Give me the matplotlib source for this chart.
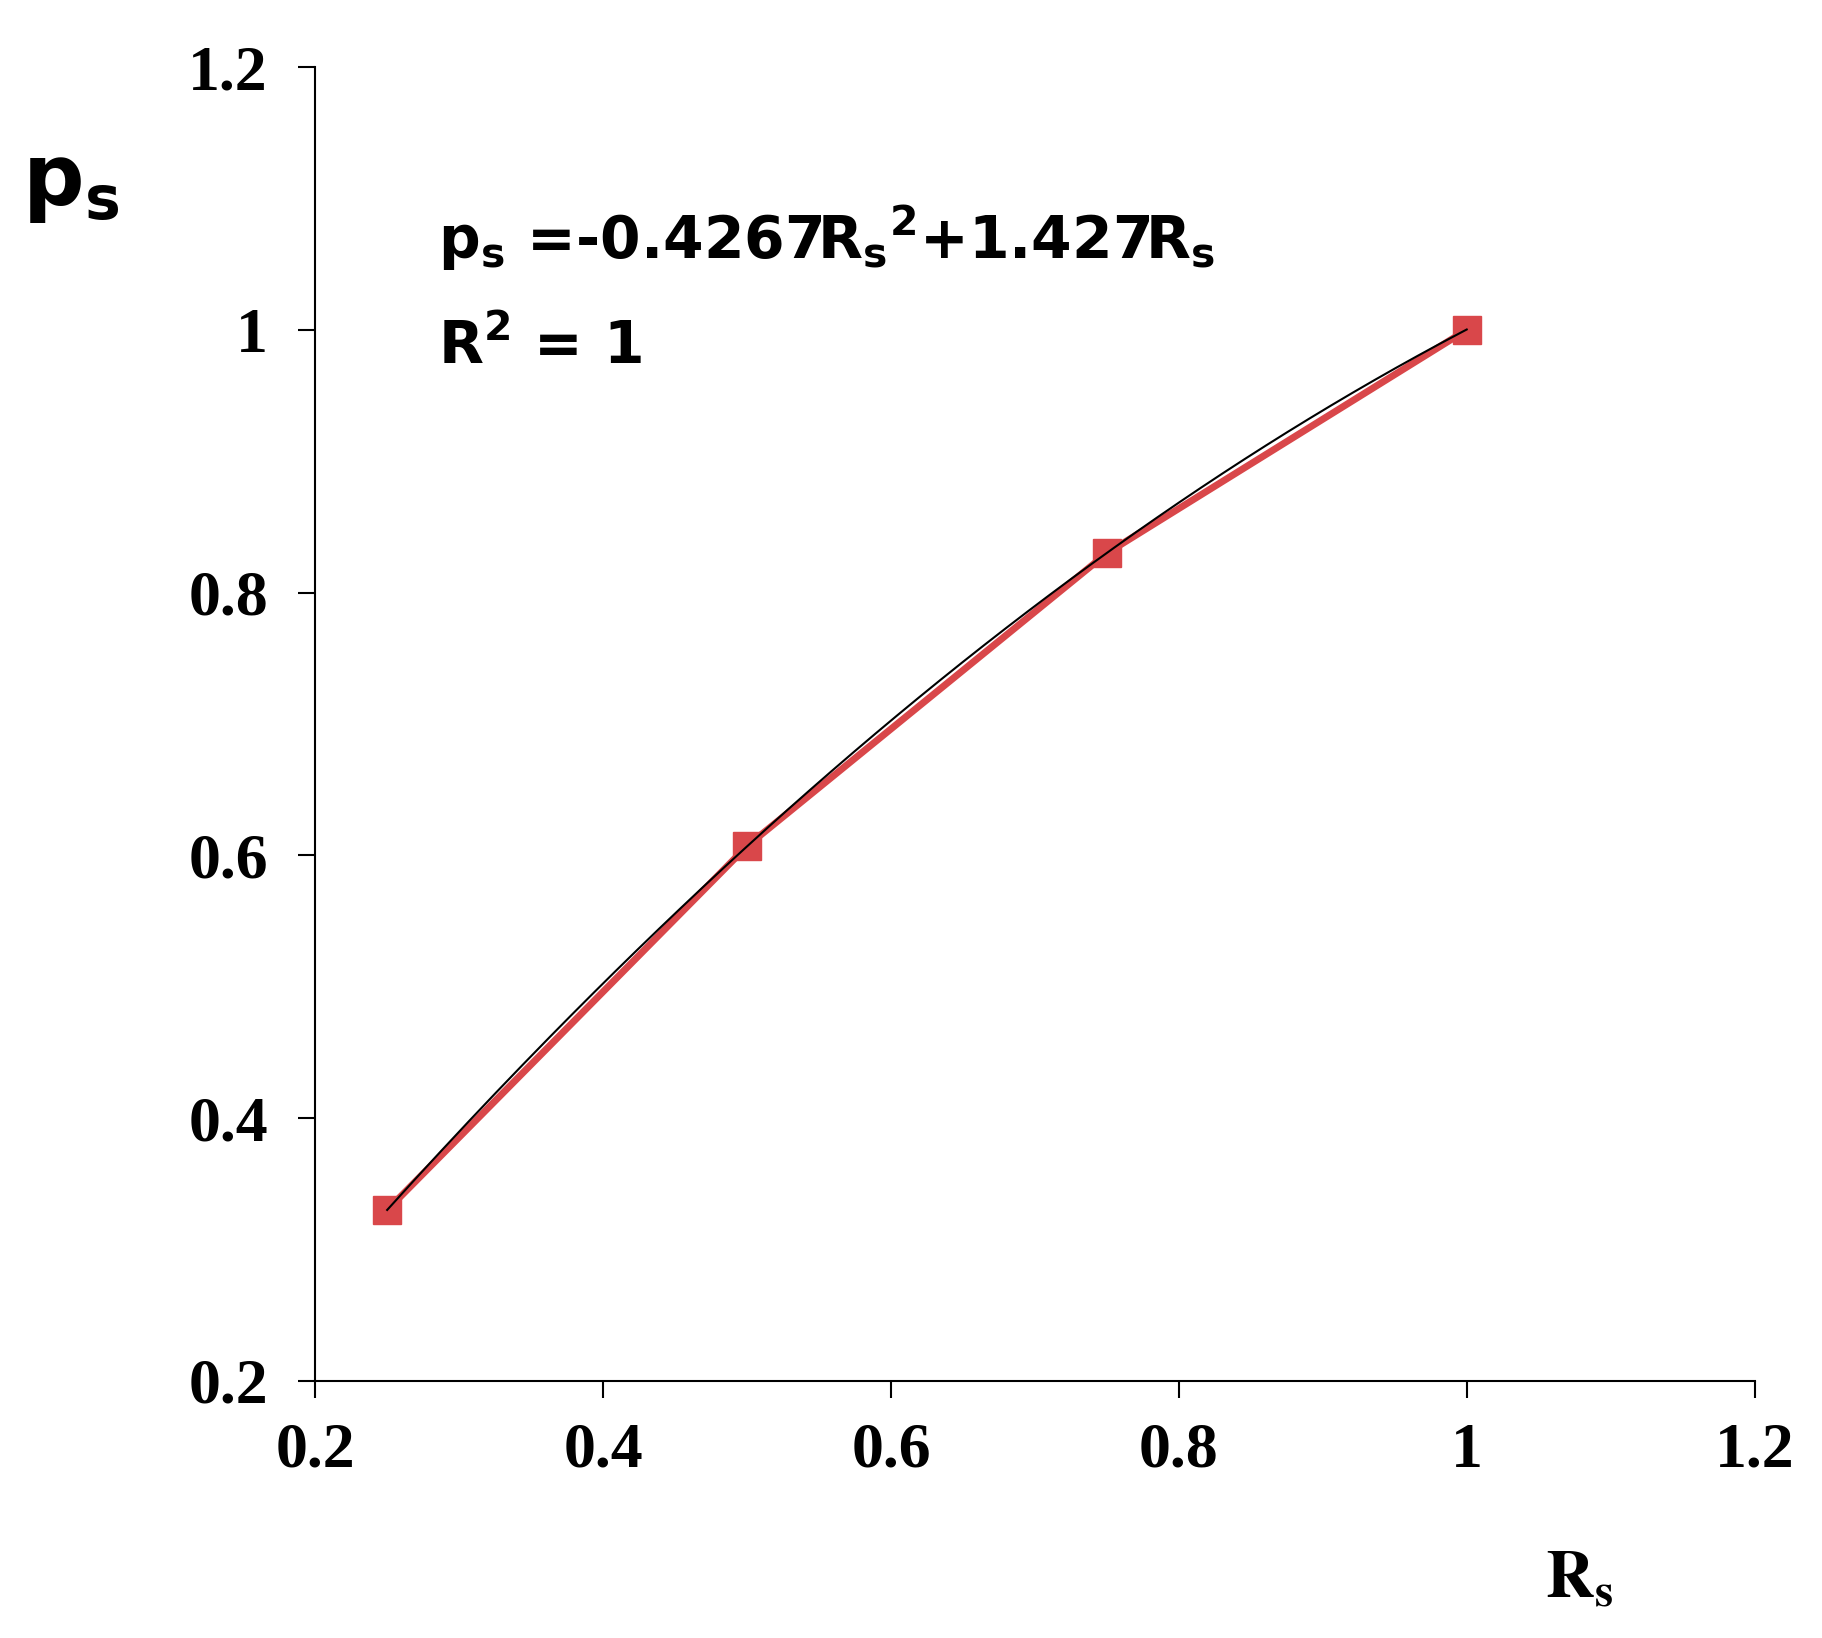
import matplotlib
matplotlib.use("Agg")
import matplotlib.pyplot as plt
import numpy as np

# data
rs = [0.25, 0.5, 0.75, 1.0]
ps = [0.33, 0.607, 0.83, 1.0]
# trendline coefficients shown on the chart
a2, a1 = -0.4267, 1.427
xticks = [0.2, 0.4, 0.6, 0.8, 1, 1.2]
yticks = [0.2, 0.4, 0.6, 0.8, 1, 1.2]
tick_labels = ['0.2', '0.4', '0.6', '0.8', '1', '1.2']

fig = plt.figure(figsize=(18.22, 16.38), dpi=100)
ax = fig.add_axes([0.173, 0.157, 0.79, 0.802])

ax.plot(rs, ps, color='#d9474a', linewidth=5, marker='s', markersize=20, zorder=2)
xf = np.linspace(rs[0], rs[-1], 200)
ax.plot(xf, a2 * xf**2 + a1 * xf, color='black', linewidth=1.5, zorder=3)

ax.set_xlim(0.2, 1.2)
ax.set_ylim(0.2, 1.2)
ax.set_xticks(xticks)
ax.set_yticks(yticks)
ax.set_xticklabels(tick_labels)
ax.set_yticklabels(tick_labels)
for lab in ax.get_xticklabels() + ax.get_yticklabels():
    lab.set_fontfamily('Liberation Serif')
    lab.set_fontweight('bold')
    lab.set_fontsize(46)
ax.tick_params(axis='x', direction='out', length=12, width=1.5, pad=18, colors='black')
ax.tick_params(axis='y', direction='out', length=12, width=1.5, pad=22, colors='black')
ax.spines['top'].set_visible(False)
ax.spines['right'].set_visible(False)
ax.spines['left'].set_linewidth(1.5)
ax.spines['bottom'].set_linewidth(1.5)

fig.text(0.012, 0.875, r'$\mathbf{p_s}$', fontsize=62, fontfamily='DejaVu Sans')
ax.text(0.285, 1.07, r'$\mathbf{p_s}$ =-0.4267R$\mathbf{_s}$$\mathbf{^2}$+1.427R$\mathbf{_s}$',
        fontsize=42, fontweight='bold', fontfamily='DejaVu Sans', va='center')
ax.text(0.285, 0.987, r'R$\mathbf{^2}$ = 1', fontsize=42, fontweight='bold',
        fontfamily='DejaVu Sans', va='center')
fig.text(0.848, 0.025, r'$\mathbf{R_s}$', fontsize=48, math_fontfamily='stix')

fig.savefig('out.png', dpi=100, facecolor='white')
